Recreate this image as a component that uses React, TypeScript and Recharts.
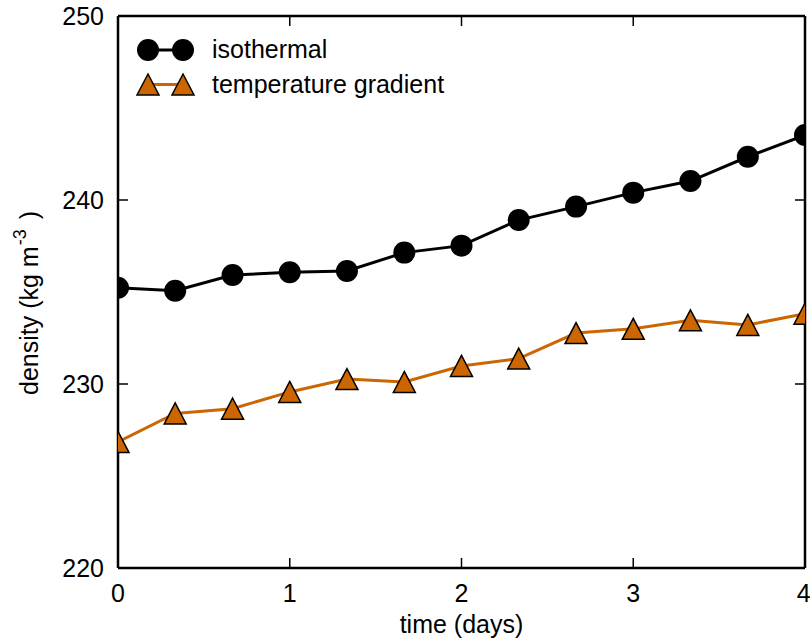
import React from "react";
import { LineChart, Line, XAxis, YAxis, Legend } from "recharts";

// Data (time in days, density in kg m^-3)
const time = [0, 0.333, 0.667, 1, 1.333, 1.667, 2, 2.333, 2.667, 3, 3.333, 3.667, 4];
const isothermal = [235.23, 235.07, 235.92, 236.07, 236.14, 237.14, 237.52, 238.91, 239.64, 240.4, 241.03, 242.35, 243.53];
const tempGradient = [226.85, 228.4, 228.66, 229.57, 230.27, 230.11, 230.98, 231.38, 232.77, 233.0, 233.46, 233.21, 233.82];

const xTicks = [0, 1, 2, 3, 4];
const yTicks = [220, 230, 240, 250];

// Colors
const BLACK = "#000000";
const ORANGE = "#CC6600";
const FONT = "'Liberation Sans', Arial, Helvetica, sans-serif";

const data = time.map((t, i) => ({
  time: t,
  isothermal: isothermal[i],
  gradient: tempGradient[i],
}));

const triPoints = (cx: number, cy: number, w = 22, h = 21) =>
  `${cx},${cy - h / 2} ${cx - w / 2},${cy + h / 2} ${cx + w / 2},${cy + h / 2}`;

const TriangleDot = (props: any) => {
  const { cx, cy } = props;
  if (cx == null || cy == null) return <g />;
  return <polygon points={triPoints(cx, cy)} fill={ORANGE} stroke={BLACK} strokeWidth={1.5} />;
};

const EmptyTick = () => <g />;

const YLabel = (props: any) => {
  const vb = props.viewBox || { x: 0, y: 16, width: 118, height: 552 };
  const x = vb.x + 38;
  const y = vb.y + vb.height / 2 + 103;
  return (
    <text
      x={x}
      y={y}
      transform={`rotate(-90, ${x}, ${y})`}
      textAnchor="start"
      fontSize={25}
      fontFamily={FONT}
      fill={BLACK}
    >
      density (kg m
      <tspan dx={1} dy={-12} fontSize={18}>-3</tspan>
      <tspan dx={3} dy={12}> )</tspan>
    </text>
  );
};

const XLabel = (props: any) => {
  const vb = props.viewBox || { x: 118, y: 568, width: 687, height: 74 };
  return (
    <text
      x={vb.x + vb.width / 2}
      y={vb.y + 65}
      textAnchor="middle"
      fontSize={25}
      fontFamily={FONT}
      fill={BLACK}
    >
      time (days)
    </text>
  );
};

const renderLegend = (props: any) => {
  const payload = props.payload || [];
  return (
    <svg width={460} height={110}>
      {payload.map((entry: any, i: number) => {
        const cy = 50 + i * 34.5;
        const isTri = entry.dataKey === "gradient";
        return (
          <g key={entry.value}>
            <line x1={148} y1={cy} x2={183} y2={cy} stroke={entry.color} strokeWidth={3} />
            {isTri ? (
              <>
                <polygon points={triPoints(148, cy)} fill={ORANGE} stroke={BLACK} strokeWidth={1.5} />
                <polygon points={triPoints(183, cy)} fill={ORANGE} stroke={BLACK} strokeWidth={1.5} />
              </>
            ) : (
              <>
                <circle cx={148} cy={cy} r={11} fill={BLACK} />
                <circle cx={183} cy={cy} r={11} fill={BLACK} />
              </>
            )}
            <text x={212} y={cy + 8} fontSize={25} fontFamily={FONT} fill={BLACK}>
              {entry.value}
            </text>
          </g>
        );
      })}
    </svg>
  );
};

const axisLine = { stroke: BLACK, strokeWidth: 2.5 };
const tickLine = { stroke: BLACK, strokeWidth: 1.5 };
const tickStyle = { fill: BLACK, fontSize: 25, fontFamily: FONT };

const App = () => {
  return (
    <div style={{ position: "absolute", left: 0, top: 0, background: "#fff" }}>
      <LineChart
        width={810}
        height={642}
        data={data}
        margin={{ top: 0, right: 0, bottom: 0, left: 0 }}
      >
        <XAxis
          dataKey="time"
          type="number"
          domain={[0, 4]}
          ticks={xTicks}
          allowDataOverflow
          height={74}
          axisLine={axisLine}
          tickLine={tickLine}
          tickSize={-10}
          tickMargin={26}
          tick={tickStyle}
          label={{ content: (p: any) => <XLabel {...p} /> }}
        />
        <XAxis
          xAxisId="top"
          dataKey="time"
          type="number"
          orientation="top"
          domain={[0, 4]}
          ticks={xTicks}
          allowDataOverflow
          height={16}
          axisLine={axisLine}
          tickLine={tickLine}
          tickSize={-10}
          tick={EmptyTick}
        />
        <YAxis
          type="number"
          domain={[220, 250]}
          ticks={yTicks}
          allowDataOverflow
          width={118}
          axisLine={axisLine}
          tickLine={tickLine}
          tickSize={-10}
          tickMargin={24}
          tick={tickStyle}
          label={{ content: (p: any) => <YLabel {...p} /> }}
        />
        <YAxis
          yAxisId="right"
          type="number"
          orientation="right"
          domain={[220, 250]}
          ticks={yTicks}
          allowDataOverflow
          width={5}
          axisLine={axisLine}
          tickLine={tickLine}
          tickSize={-10}
          tick={EmptyTick}
        />
        <Legend
          layout="vertical"
          align="center"
          verticalAlign="middle"
          wrapperStyle={{ left: 0, top: 0, width: 460, height: 110 }}
          content={renderLegend}
        />
        <Line
          dataKey="isothermal"
          name="isothermal"
          stroke={BLACK}
          strokeWidth={3}
          dot={{ r: 11, fill: BLACK, stroke: BLACK, strokeWidth: 0 }}
          activeDot={false}
          isAnimationActive={false}
        />
        <Line
          dataKey="gradient"
          name="temperature gradient"
          stroke={ORANGE}
          strokeWidth={3}
          dot={(p: any) => <TriangleDot key={`tri-${p.index}`} {...p} />}
          activeDot={false}
          isAnimationActive={false}
        />
      </LineChart>
    </div>
  );
};

export default App;
